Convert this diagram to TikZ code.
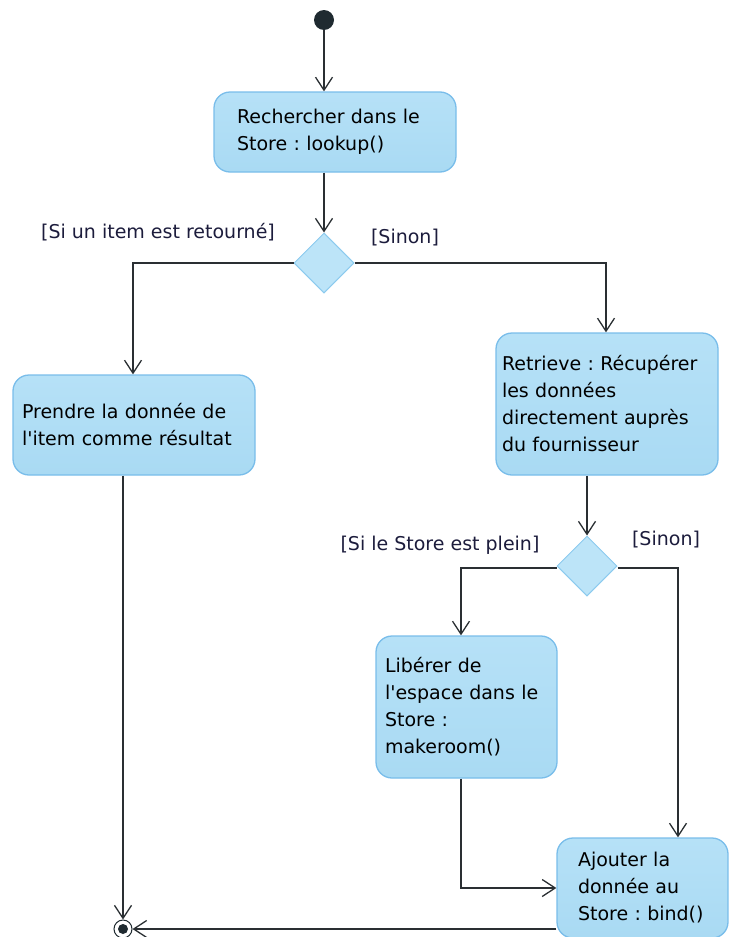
\documentclass[tikz,border=0pt]{standalone}
\usepackage{fontspec}
\setmainfont{DejaVu Sans}
\usetikzlibrary{arrows.meta,shapes.geometric,calc}
\definecolor{boxfill}{HTML}{B6E1F7}
\definecolor{boxfillb}{HTML}{A9DAF3}
\definecolor{boxdraw}{HTML}{79BDEA}
\definecolor{dfill}{HTML}{BCE4F8}
\definecolor{ddraw}{HTML}{8CCAEE}
\definecolor{linec}{HTML}{2A2F33}
\definecolor{labc}{HTML}{1C1C3C}
\definecolor{nodedark}{HTML}{1F2A30}
\tikzset{
  x=1pt, y=-1pt,
  actbox/.style={draw=boxdraw, line width=1.3pt, rounded corners=16pt,
     top color=boxfill, bottom color=boxfillb, align=left,
     font=\fontsize{19}{27}\selectfont\frenchspacing, text=black, inner ysep=0pt},
  decision/.style={diamond, draw=ddraw, line width=1pt, fill=dfill,
     minimum width=60pt, minimum height=60pt, inner sep=0pt},
  arr/.style={draw=linec, line width=1.3pt, -{Straight Barb[length=13pt,width=17pt,line width=1.3pt]}},
  guard/.style={font=\fontsize{19}{27}\selectfont\frenchspacing, text=labc, inner sep=0pt},
}
\begin{document}
\begin{tikzpicture}
\useasboundingbox (0,0) rectangle (730,937);
% initial node
\node[circle, fill=nodedark, minimum size=20pt, inner sep=0pt] (start) at (324,20) {};
% actions
\node[actbox, minimum width=242pt, minimum height=80pt, inner xsep=23pt, text width=196pt] (b1) at (335,132)
  {Rechercher dans le\\Store : lookup()};
\node[decision] (d1) at (324,263) {};
\node[actbox, minimum width=242pt, minimum height=100pt, inner xsep=9pt, text width=224pt] (b2) at (134,425)
  {Prendre la donnée de\\l\textquotesingle item comme résultat};
\node[actbox, minimum width=222pt, minimum height=142pt, inner xsep=6pt, text width=210pt] (b3) at (607,404)
  {Retrieve : Récupérer\\les données\\directement auprès\\du fournisseur};
\node[decision] (d2) at (587,566) {};
\node[actbox, minimum width=181pt, minimum height=142pt, inner xsep=9pt, text width=163pt] (b4) at (466.5,707)
  {Libérer de\\l\textquotesingle espace dans le\\Store :\\makeroom()};
\node[actbox, minimum width=171pt, minimum height=100pt, inner xsep=21pt, text width=129pt] (b5) at (642.5,888)
  {Ajouter la\\donnée au\\Store : bind()};
% final node
\node[circle, draw=nodedark, line width=1pt, fill=white, minimum size=18pt, inner sep=0pt] (fin) at (123,929) {};
\node[circle, fill=nodedark, minimum size=10pt, inner sep=0pt] (findot) at (fin.center) {};
% guards
\node[guard] (g1) at (158,232) {[Si un item est retourné]};
\node[guard] (g2) at (405,238) {[Sinon]};
\node[guard] (g3) at (440,545) {[Si le Store est plein]};
\node[guard] (g4) at (666,540) {[Sinon]};
% connectors
\coordinate (c1) at (133,263);
\coordinate (c2) at (606,263);
\coordinate (c3) at (461,568);
\coordinate (c4) at (678,568);
\draw[arr] (start) -- (b1.north -| start);
\draw[arr] (b1.south -| d1.north) -- (d1.north);
\draw[arr] (d1.west) -- (c1) -- (c1 |- b2.north);
\draw[arr] (d1.east) -- (c2) -- (c2 |- b3.north);
\draw[arr] (b3.south -| d2.north) -- (d2.north);
\draw[arr] (d2.west |- c3) -- (c3) -- (c3 |- b4.north);
\draw[arr] (d2.east |- c4) -- (c4) -- (c4 |- b5.north);
\draw[arr] (b4.south -| c3) |- (b5.west);
\draw[arr] (b2.south -| fin.north) -- (fin.north);
\draw[arr] (b5.west |- fin.east) -- (fin.east);
\end{tikzpicture}
\end{document}
